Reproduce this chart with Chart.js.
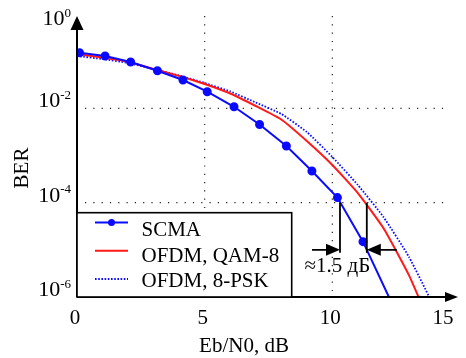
<!DOCTYPE html>
<html>
<head>
<meta charset="utf-8">
<script src="https://cdn.jsdelivr.net/npm/chart.js@4.4.1/dist/chart.umd.min.js"></script>
<style>
    html, body { margin: 0; padding: 0; background: #fff; }
    #wrap { width: 466px; height: 358px; }
</style>
</head>
<body>
<div id="wrap"><canvas id="ber-chart" width="466" height="358"></canvas></div>
<script>
// 數據 (Eb/N0, dB -> BER)
const seriesNames = ['SCMA', 'OFDM, QAM-8', 'OFDM, 8-PSK'];
const snrScma = [0.1, 1.1, 2.1, 3.15, 4.15, 5.1, 6.15, 7.15, 8.2, 9.2, 10.2, 11.2, 12.3];
const berScma = [0.151, 0.129, 0.096, 0.0628, 0.0399, 0.0225, 0.0108, 0.00454, 0.00159, 4.7e-4, 1.28e-4, 1.49e-5, 8e-7];
const snrOfdm = [0, 1, 2, 3, 4, 5, 6, 7, 8, 9, 10, 11, 12, 13, 14];
const berQam8 = [0.142, 0.120, 0.0975, 0.0682, 0.0485, 0.0328, 0.0206, 0.0112, 0.0058, 0.00203, 6.3e-4, 1.6e-4, 2.9e-5, 2.9e-6, 1.6e-7];
const berPsk8 = [0.129, 0.111, 0.0915, 0.0682, 0.0497, 0.0345, 0.0228, 0.0133, 0.0076, 0.00315, 9.3e-4, 2.37e-4, 5.0e-5, 7.1e-6, 6e-7];

// 刻度
const xTicks = [0, 5, 10, 15];
const yTicks = [0, -2, -4, -6];      // 10^n
const xGrid = [5, 10];
const yGrid = [1e-2, 1e-4];

// 標註: 1e-4 處兩曲線的差
const gapSnr = [10.3, 11.35];
const gapBer = 1e-4;
const gapArrowBer = 1e-5;
const gapText = '≈1.5 дБ';

const xTitle = 'Eb/N0, dB';
const yTitle = 'BER';

const SERIF = '"Liberation Serif", "Times New Roman", serif';
const BLUE = '#0a0aff';
const RED = '#ff1a1a';

const toPoints = (xs, ys) => xs.map((x, i) => ({ x: x, y: ys[i] }));

/**
 * 箭頭 (實心三角)
 */
function arrowHead(ctx, tipX, tipY, dir, len, half) {
    ctx.beginPath();
    if (dir === 'up') {
        ctx.moveTo(tipX, tipY);
        ctx.lineTo(tipX - half, tipY + len);
        ctx.lineTo(tipX + half, tipY + len);
    } else if (dir === 'right') {
        ctx.moveTo(tipX, tipY);
        ctx.lineTo(tipX - len, tipY - half);
        ctx.lineTo(tipX - len, tipY + half);
    } else {
        ctx.moveTo(tipX, tipY);
        ctx.lineTo(tipX + len, tipY - half);
        ctx.lineTo(tipX + len, tipY + half);
    }
    ctx.closePath();
    ctx.fill();
}

// 點狀網格
const gridPlugin = {
    id: 'dottedGrid',
    beforeDatasetsDraw(chart) {
        const { ctx, chartArea, scales } = chart;
        ctx.save();
        ctx.strokeStyle = '#222';
        ctx.lineWidth = 1.2;
        ctx.setLineDash([1.2, 7.1]);
        xGrid.forEach(v => {
            const px = scales.x.getPixelForValue(v);
            ctx.beginPath();
            ctx.moveTo(px, chartArea.top + 2);
            ctx.lineTo(px, chartArea.bottom);
            ctx.stroke();
        });
        yGrid.forEach(v => {
            const py = scales.y.getPixelForValue(v);
            ctx.beginPath();
            ctx.moveTo(chartArea.left + 8, py);
            ctx.lineTo(scales.x.getPixelForValue(14.5), py);
            ctx.stroke();
        });
        ctx.restore();
    }
};

// 坐標軸、刻度文字、圖例、標註
const decorPlugin = {
    id: 'paperDecor',
    afterDatasetsDraw(chart) {
        const { ctx, chartArea, scales } = chart;
        const x0 = chartArea.left, y0 = chartArea.bottom;
        ctx.save();
        ctx.fillStyle = '#000';
        ctx.strokeStyle = '#000';

        // 軸線
        ctx.lineWidth = 2;
        ctx.beginPath();
        ctx.moveTo(x0, y0);
        ctx.lineTo(chartArea.right - 12, y0);
        ctx.moveTo(x0, y0);
        ctx.lineTo(x0, chartArea.top + 10);
        ctx.stroke();
        arrowHead(ctx, x0, chartArea.top + 2, 'up', 14, 6.5);
        arrowHead(ctx, chartArea.right - 2, y0, 'right', 13, 5);

        // x 刻度
        ctx.font = '21px ' + SERIF;
        ctx.textAlign = 'center';
        ctx.textBaseline = 'alphabetic';
        xTicks.forEach(v => {
            const px = Math.min(scales.x.getPixelForValue(v) - 2, 443);
            ctx.fillText(String(v), px, y0 + 27);
        });

        // y 刻度 10^n
        yTicks.forEach(n => {
            const py = Math.max(scales.y.getPixelForValue(Math.pow(10, n)) - 1, 25);
            const base = '10', exp = n === 0 ? '0' : '-' + Math.abs(n);
            ctx.font = '13px ' + SERIF;
            const wExp = ctx.measureText(exp).width;
            ctx.font = '22px ' + SERIF;
            const wBase = ctx.measureText(base).width;
            const right = 71;
            ctx.textAlign = 'left';
            ctx.fillText(base, right - wExp - wBase, py);
            ctx.font = '13px ' + SERIF;
            ctx.fillText(exp, right - wExp, py - 8.5);
        });

        // 軸標題
        ctx.font = '21px ' + SERIF;
        ctx.textAlign = 'center';
        ctx.fillText(xTitle, 244, 352);
        ctx.save();
        ctx.translate(27.5, 168);
        ctx.rotate(-Math.PI / 2);
        ctx.fillText(yTitle, 0, 0);
        ctx.restore();

        // 標註
        const ya = scales.y.getPixelForValue(gapBer);
        const yb = scales.y.getPixelForValue(gapArrowBer);
        const xa = scales.x.getPixelForValue(gapSnr[0]);
        const xb = scales.x.getPixelForValue(gapSnr[1]);
        ctx.lineWidth = 1.8;
        ctx.beginPath();
        ctx.moveTo(xa, ya); ctx.lineTo(xa, yb + 3);
        ctx.moveTo(xb, ya); ctx.lineTo(xb, yb + 3);
        ctx.moveTo(xa - 28, yb); ctx.lineTo(xa - 12, yb);
        ctx.moveTo(xb + 12, yb); ctx.lineTo(xb + 30, yb);
        ctx.stroke();
        arrowHead(ctx, xa, yb, 'right', 14, 6);
        arrowHead(ctx, xb, yb, 'left', 14, 6);
        ctx.font = '21px ' + SERIF;
        ctx.textAlign = 'center';
        ctx.fillText(gapText, (xa + xb) / 2 - 16, yb + 22.5);

        // 圖例
        const box = { l: x0, t: 212.7, r: 291.7, b: y0 };
        ctx.fillStyle = '#fff';
        ctx.fillRect(box.l, box.t, box.r - box.l, box.b - box.t);
        ctx.lineWidth = 1.6;
        ctx.strokeRect(box.l, box.t, box.r - box.l, box.b - box.t);
        const lineY = [222.5, 250.7, 279];
        const textY = [236, 262, 287];
        chart.data.datasets.forEach((ds, i) => {
            ctx.save();
            ctx.strokeStyle = ds.borderColor;
            ctx.lineWidth = ds.borderWidth;
            ctx.setLineDash(ds.borderDash || []);
            ctx.beginPath();
            ctx.moveTo(95, lineY[i]);
            ctx.lineTo(128, lineY[i]);
            ctx.stroke();
            if (ds.pointRadius > 0) {
                ctx.fillStyle = ds.borderColor;
                ctx.beginPath();
                ctx.arc(111.5, lineY[i], ds.pointRadius, 0, Math.PI * 2);
                ctx.fill();
            }
            ctx.restore();
            ctx.fillStyle = '#000';
            ctx.font = '21px ' + SERIF;
            ctx.textAlign = 'left';
            ctx.fillText(ds.label, 141.5, textY[i]);
        });

        ctx.restore();
    }
};

const chart = new Chart(document.getElementById('ber-chart'), {
    type: 'line',
    data: {
        datasets: [{
            label: seriesNames[0],
            data: toPoints(snrScma, berScma),
            borderColor: BLUE,
            backgroundColor: BLUE,
            borderWidth: 2,
            pointRadius: 3.5,
            pointStyle: 'circle',
            tension: 0
        }, {
            label: seriesNames[1],
            data: toPoints(snrOfdm, berQam8),
            borderColor: RED,
            backgroundColor: RED,
            borderWidth: 2,
            pointRadius: 0,
            tension: 0.15
        }, {
            label: seriesNames[2],
            data: toPoints(snrOfdm, berPsk8),
            borderColor: BLUE,
            backgroundColor: BLUE,
            borderWidth: 1.8,
            borderDash: [1.6, 1.6],
            pointRadius: 0,
            tension: 0.15
        }]
    },
    options: {
        responsive: false,
        devicePixelRatio: 1,
        animation: false,
        layout: { padding: { left: 77, right: 6, top: 14, bottom: 61 } },
        plugins: {
            legend: { display: false },
            tooltip: { enabled: false }
        },
        scales: {
            x: { type: 'linear', min: 0, max: 15, display: false },
            y: { type: 'logarithmic', min: 1e-6, max: 1, display: false }
        }
    },
    plugins: [gridPlugin, decorPlugin]
});
</script>
</body>
</html>
